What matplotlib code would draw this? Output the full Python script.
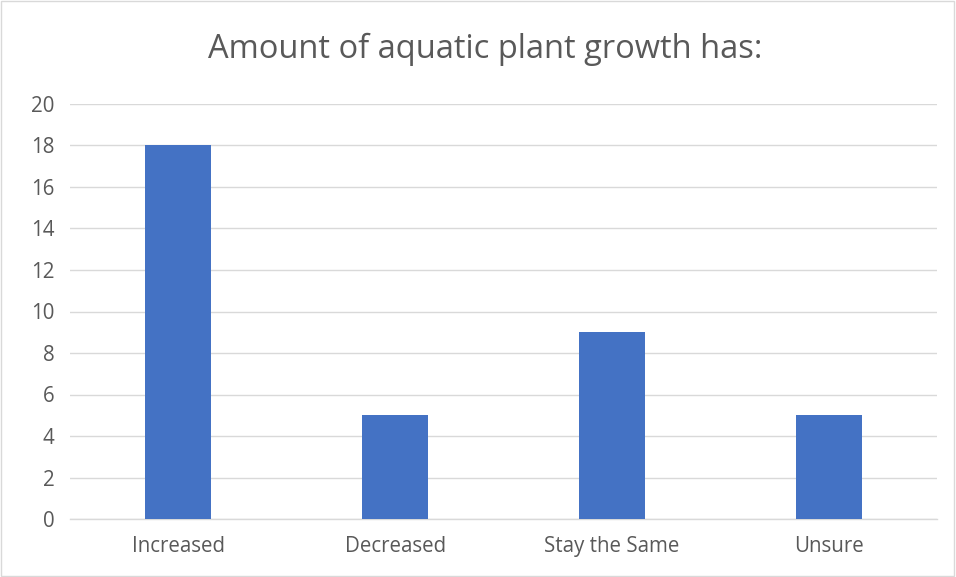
import matplotlib
matplotlib.use('Agg')
import matplotlib.pyplot as plt
from matplotlib.patches import Rectangle

categories = ['Increased', 'Decreased', 'Stay the Same', 'Unsure']
counts = [18, 5, 9, 5]
y_ticks = [0, 2, 4, 6, 8, 10, 12, 14, 16, 18, 20]

plt.rcParams['font.family'] = ['Open Sans', 'DejaVu Sans']

fig = plt.figure(figsize=(9.56, 5.77), dpi=100)
ax = fig.add_axes([70 / 956, 1 - 519 / 577, 867 / 956, 415 / 577])

ax.bar(range(len(categories)), counts, width=0.305, color='#4472C4', zorder=3)

ax.set_xlim(-0.5, len(categories) - 0.5)
ax.set_ylim(0, 20)
ax.set_yticks(y_ticks)
ax.set_xticks(range(len(categories)))
ax.set_xticklabels(categories)
ax.tick_params(axis='both', length=0, colors='#595959', labelsize=14.8)
ax.tick_params(axis='y', pad=11)
ax.tick_params(axis='x', pad=12)
ax.grid(axis='y', color='#D9D9D9', linewidth=1, zorder=0)

for side in ['top', 'right', 'left']:
    ax.spines[side].set_visible(False)
ax.spines['bottom'].set_color('#D9D9D9')
ax.spines['bottom'].set_linewidth(1)

fig.text(485 / 956, 1 - 49 / 577, 'Amount of aquatic plant growth has:',
         ha='center', va='center', fontsize=23.5, color='#595959')

fig.patches.append(Rectangle((0.001, 0.001), 0.997, 0.997, transform=fig.transFigure,
                             fill=False, edgecolor='#D9D9D9', linewidth=1))

fig.savefig('out.png', dpi=100)
